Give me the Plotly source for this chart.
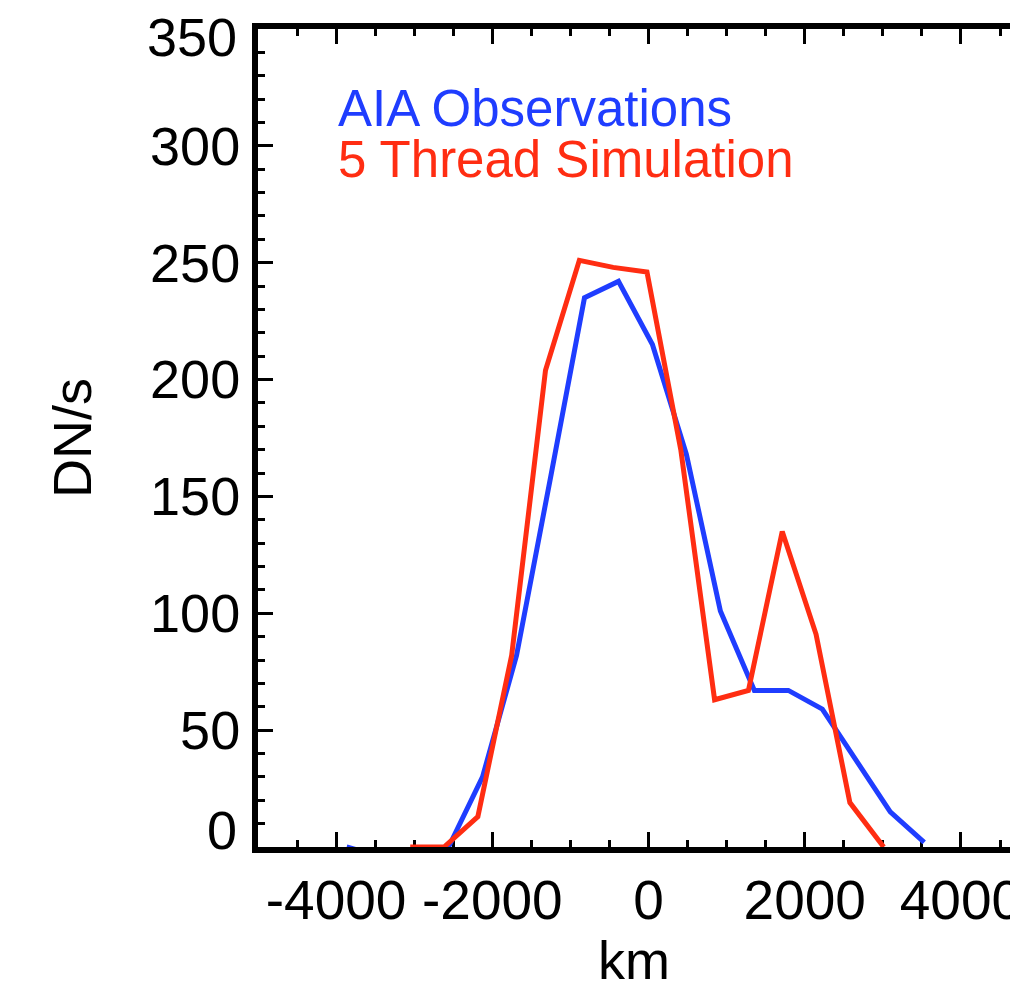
import plotly.graph_objects as go

# AIA observations (blue)
obs_km = [-3865, -3430, -2995, -2560, -2125, -1690, -1255, -820, -385, 50,
          485, 920, 1355, 1790, 2225, 2660, 3095, 3530]
obs_dn = [0, -4, -4, 0, 30, 82, 158, 235, 242, 215,
          168, 101, 67, 67, 59, 37, 15, 2]

# 5 thread simulation (red)
sim_km = [-3051, -2618, -2185, -1752, -1319, -886, -453, -20, 413, 846,
          1279, 1712, 2145, 2578, 3011]
sim_dn = [0, 0, 13, 82, 204, 251, 248, 246, 170, 63,
          67, 135, 91, 19, 0]

x_ticks = [-4000, -2000, 0, 2000, 4000]
y_ticks = [0, 50, 100, 150, 200, 250, 300, 350]

BLUE = "#1f3dff"
RED = "#ff2d12"
FONT = "Liberation Sans, Arial, Helvetica, sans-serif"

fig = go.Figure()
fig.add_trace(go.Scatter(x=obs_km, y=obs_dn, mode="lines",
                         line=dict(color=BLUE, width=5), name="AIA Observations"))
fig.add_trace(go.Scatter(x=sim_km, y=sim_dn, mode="lines",
                         line=dict(color=RED, width=5), name="5 Thread Simulation"))

ytext = ["" if v in (0, 350) else str(v) for v in y_ticks]

fig.update_layout(
    width=1010, height=990,
    margin=dict(l=258, r=0, t=29, b=143, autoexpand=False),
    paper_bgcolor="white", plot_bgcolor="white",
    showlegend=False,
    font=dict(family=FONT, color="black", size=54),
    xaxis=dict(
        range=[-5000, 4628], tickmode="array", tickvals=x_ticks,
        ticktext=[str(v) for v in x_ticks], tickangle=0, automargin=False,
        ticks="inside", ticklen=15, tickwidth=3, tickcolor="black",
        showline=True, linewidth=6, linecolor="black", mirror="ticks",
        showgrid=False, zeroline=False, layer="below traces",
        ticklabeloverflow="allow",
        minor=dict(dtick=500, tick0=0, ticks="inside", ticklen=7, tickwidth=3,
                   tickcolor="black", showgrid=False),
        tickfont=dict(size=55), ticklabelstandoff=0,
        title=dict(text="km", font=dict(size=54), standoff=16),
    ),
    yaxis=dict(
        range=[0, 350], tickmode="array", tickvals=y_ticks, ticktext=ytext,
        automargin=False,
        ticks="inside", ticklen=15, tickwidth=3, tickcolor="black",
        showline=True, linewidth=6, linecolor="black", mirror=False,
        showgrid=False, zeroline=False, layer="below traces",
        minor=dict(dtick=10, tick0=0, ticks="inside", ticklen=7, tickwidth=3,
                   tickcolor="black", showgrid=False),
        tickfont=dict(size=54), ticklabelstandoff=1,
        title=dict(text="DN/s", font=dict(size=54), standoff=43),
    ),
    annotations=[
        dict(text="350", x=0, xref="paper", y=350, yref="y", xanchor="right",
             yanchor="middle", xshift=-19, yshift=-8, showarrow=False,
             font=dict(size=54)),
        dict(text="0", x=0, xref="paper", y=0, yref="y", xanchor="right",
             yanchor="middle", xshift=-19, yshift=17, showarrow=False,
             font=dict(size=54)),
        dict(text="AIA Observations", x=-4000, xref="x", y=316, yref="y",
             xanchor="left", yanchor="middle", showarrow=False,
             font=dict(size=51, color=BLUE)),
        dict(text="5 Thread Simulation", x=-4000, xref="x", y=294, yref="y",
             xanchor="left", yanchor="middle", showarrow=False,
             font=dict(size=51, color=RED)),
    ],
)

fig.write_html("out.html")
